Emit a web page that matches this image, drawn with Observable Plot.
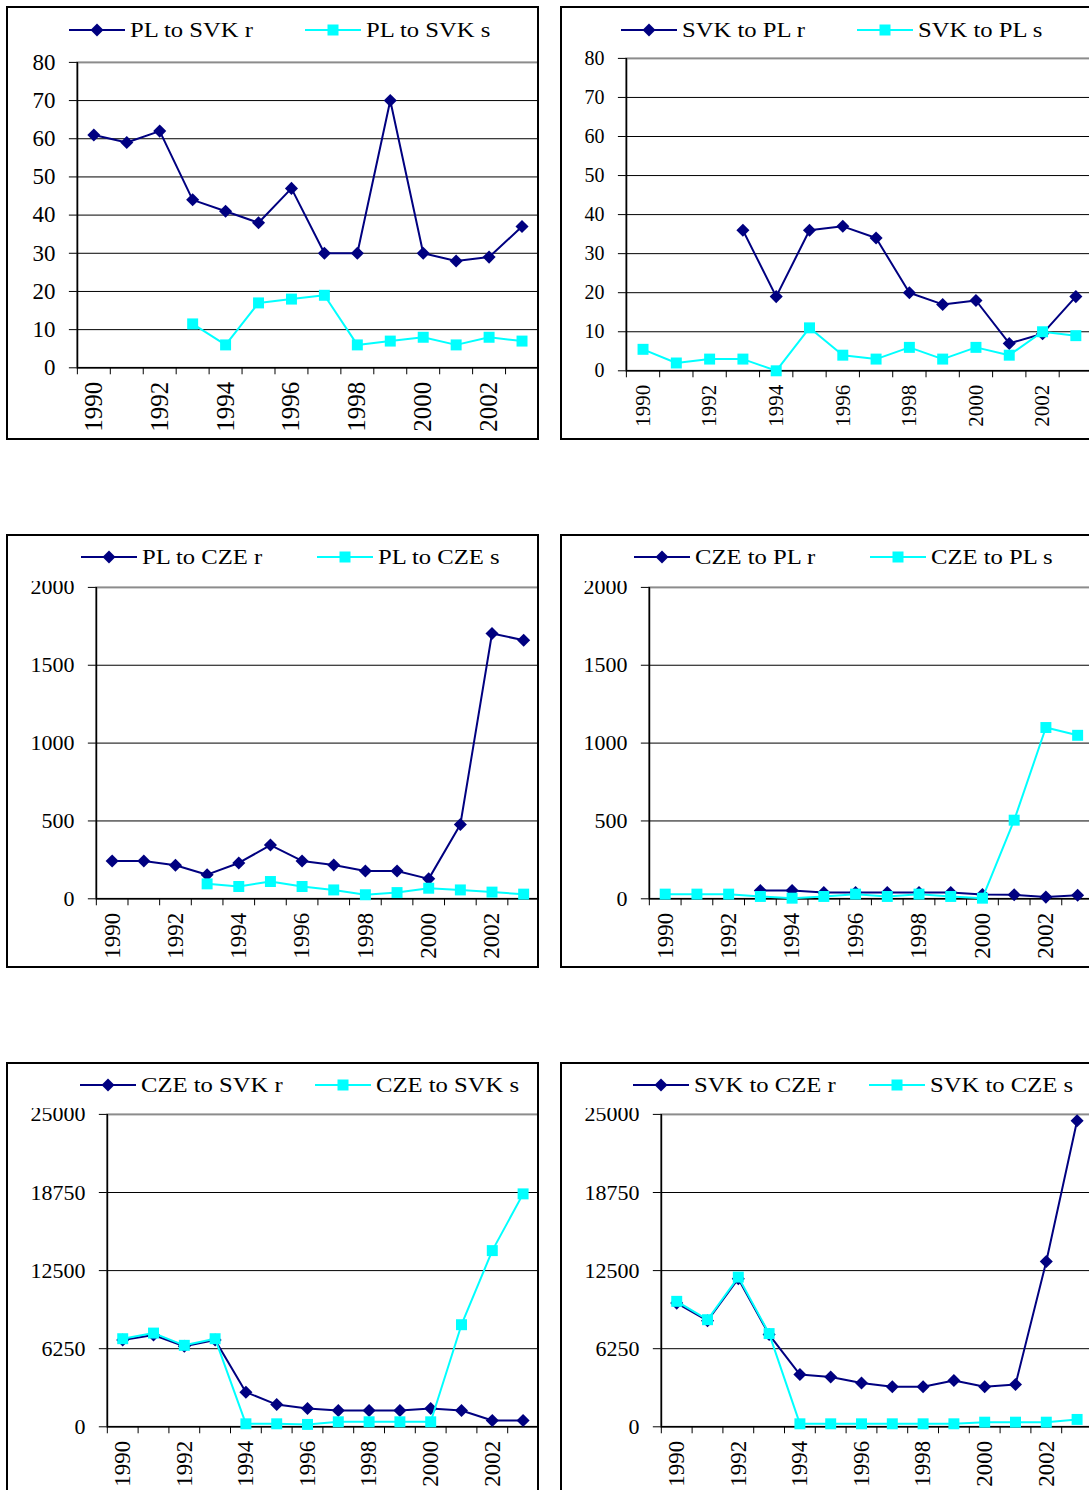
<!DOCTYPE html>
<html><head><meta charset="utf-8">
<script src="https://cdn.jsdelivr.net/npm/d3@7"></script>
<script src="https://cdn.jsdelivr.net/npm/@observablehq/plot@0.6"></script>
<style>
body{margin:0;background:#fff;width:1089px;height:1490px;overflow:hidden;position:relative;font-family:"Liberation Serif","Times New Roman",serif;}
.panel{position:absolute;width:533px;height:434px;}
.border{position:absolute;left:0;top:0;width:533px;height:434px;border:2px solid #000;box-sizing:border-box;pointer-events:none;z-index:3}
.panel svg.chart{position:absolute;left:0;top:0;z-index:1}
svg.chart, svg.chart text{font-family:"Liberation Serif","Times New Roman",serif !important;}
.cover{position:absolute;left:2px;top:2px;width:529px;background:#fff;z-index:2}
.leg{position:absolute;z-index:4;display:flex;align-items:center;font-size:22px;white-space:nowrap;color:#000}
.leg svg{display:block;margin-right:5px;flex:none}
.leg span{display:inline-block;transform:scaleX(1.12);transform-origin:left center}
</style>
</head><body>
<script>
// ---- data (1990 .. 2003) ----
const years = [1990,1991,1992,1993,1994,1995,1996,1997,1998,1999,2000,2001,2002,2003];
const yearLabels = [1990,1992,1994,1996,1998,2000,2002];

const plToSvkR  = [61,59,62,44,41,38,47,30,30,70,30,28,29,37];
const plToSvkS  = [null,null,null,11.5,6,17,18,19,6,7,8,6,8,7];
const svkToPlR  = [null,null,null,36,19,36,37,34,20,17,18,7,9.5,19];
const svkToPlS  = [5.5,2,3,3,0,11,4,3,6,3,6,4,10,9];
const plToCzeR  = [243,243,215,155,230,345,243,217,179,179,128,477,1704,1661];
const plToCzeS  = [null,null,null,96,79,111,79,57,26,40,68,57,43,30];
const czeToPlR  = [null,null,null,53,53,40,40,40,40,40,28,26,11,23];
const czeToPlS  = [30,30,30,15,4,15,30,15,30,15,4,505,1100,1050];
const czeToSvkR = [6950,7350,6450,6950,2770,1780,1460,1300,1300,1300,1460,1300,500,500];
const czeToSvkS = [7050,7500,6520,7050,240,240,190,400,400,400,400,8170,14100,18640];
const svkToCzeR = [9900,8490,11850,7380,4180,3990,3510,3200,3200,3700,3200,3380,13230,24490];
const svkToCzeS = [10040,8570,11980,7460,240,240,240,240,240,240,370,370,370,590];

const ticks80 = [0,10,20,30,40,50,60,70,80];
const ticks2000 = [0,500,1000,1500,2000];
const ticks25000 = [0,6250,12500,18750,25000];

const NAVY = "#000080", CYAN = "#00FFFF";

const panels = [
  {left:6,   top:6,    r:plToSvkR,  s:plToSvkS,  rName:"PL to SVK r",  sName:"PL to SVK s",  ticks:ticks80,    ml:71,  mt:56, bottom:362, right:533, yFont:23, xFont:25, leg1:63, leg2:299, legY:24, cover:0},
  {left:560, top:6,    r:svkToPlR,  s:svkToPlS,  rName:"SVK to PL r",  sName:"SVK to PL s",  ticks:ticks80,    ml:66,  mt:52, bottom:365, right:533, yFont:20, xFont:21, leg1:61, leg2:297, legY:24, cover:0},
  {left:6,   top:534,  r:plToCzeR,  s:plToCzeS,  rName:"PL to CZE r",  sName:"PL to CZE s",  ticks:ticks2000,  ml:90,  mt:53, bottom:365, right:534, yFont:22, xFont:23, leg1:75, leg2:311, legY:23, cover:47},
  {left:560, top:534,  r:czeToPlR,  s:czeToPlS,  rName:"CZE to PL r",  sName:"CZE to PL s",  ticks:ticks2000,  ml:89,  mt:53, bottom:365, right:534, yFont:22, xFont:23, leg1:74, leg2:310, legY:23, cover:47},
  {left:6,   top:1062, r:czeToSvkR, s:czeToSvkS, rName:"CZE to SVK r", sName:"CZE to SVK s", ticks:ticks25000, ml:101, mt:52, bottom:365, right:533, yFont:22, xFont:23, leg1:74, leg2:309, legY:23, cover:46},
  {left:560, top:1062, r:svkToCzeR, s:svkToCzeS, rName:"SVK to CZE r", sName:"SVK to CZE s", ticks:ticks25000, ml:101, mt:52, bottom:365, right:533, yFont:22, xFont:23, leg1:73, leg2:309, legY:23, cover:46}
];

const W = 534, H = 434;
const bounds = d3.range(14 + 1).map(i => 1989.5 + i);
const FONT = '"Liberation Serif","Times New Roman",serif';

function legendEntry(panelDiv, x, y, name, symbol, color) {
  const d = document.createElement("div");
  d.className = "leg";
  d.style.left = x + "px";
  d.style.top = (y - 13) + "px";
  d.style.height = "26px";
  const sym = symbol === "diamond"
    ? `<path d="M28,0.5 L34.5,7 L28,13.5 L21.5,7 Z" fill="${color}"/>`
    : `<rect x="22.5" y="1.5" width="11" height="11" fill="${color}"/>`;
  d.innerHTML = `<svg width="56" height="14" viewBox="0 0 56 14"><line x1="0" x2="56" y1="7" y2="7" stroke="${color}" stroke-width="2"/>${sym}</svg><span>${name}</span>`;
  panelDiv.appendChild(d);
}

for (const p of panels) {
  const div = document.createElement("div");
  div.className = "panel";
  div.style.left = p.left + "px";
  div.style.top = p.top + "px";
  document.body.appendChild(div);

  const max = p.ticks[p.ticks.length - 1];
  const rows = years.map((yr, i) => ({year: yr, r: p.r[i], s: p.s[i]}));

  const chart = Plot.plot({
    width: W, height: H,
    marginLeft: p.ml, marginTop: p.mt, marginBottom: H - p.bottom, marginRight: W - p.right,
    style: {fontFamily: FONT, fontSize: p.yFont + "px", color: "#000", background: "transparent"},
    x: {domain: [1989.5, 2003.5], label: null},
    y: {domain: [0, max], label: null},
    marks: [
      Plot.frame({stroke: "#8c8c8c", strokeWidth: 2}),
      Plot.gridY(p.ticks.slice(1, -1), {stroke: "#000", strokeOpacity: 1, strokeWidth: 1}),
      Plot.axisY(p.ticks, {tickSize: 8, tickPadding: 14, stroke: "#000", fill: "#000", fontSize: p.yFont, label: null, tickFormat: d => String(d)}),
      Plot.axisX(bounds, {tickSize: 7, stroke: "#000", label: null, tickFormat: () => ""}),
      Plot.axisX(yearLabels, {tickSize: 0, tickPadding: 14, tickRotate: -90, fill: "#000", fontSize: p.xFont, label: null, tickFormat: d => String(d)}),
      Plot.ruleX([1989.5], {stroke: "#000", strokeWidth: 1.5}),
      Plot.ruleY([0], {stroke: "#000", strokeWidth: 1.5}),
      Plot.line(rows, {x: "year", y: "r", stroke: NAVY, strokeWidth: 2}),
      Plot.dot(rows.filter(d => d.r != null), {x: "year", y: "r", symbol: "diamond2", r: 5.9, fill: NAVY, stroke: "none"}),
      Plot.line(rows, {x: "year", y: "s", stroke: CYAN, strokeWidth: 2}),
      Plot.dot(rows.filter(d => d.s != null), {x: "year", y: "s", symbol: "square", r: 6.2, fill: CYAN, stroke: "none"})
    ]
  });
  chart.classList.add("chart");
  div.appendChild(chart);

  if (p.cover) {
    const c = document.createElement("div");
    c.className = "cover";
    c.style.height = (p.cover - 2) + "px";
    div.appendChild(c);
  }
  const b = document.createElement("div");
  b.className = "border";
  div.appendChild(b);

  legendEntry(div, p.leg1, p.legY, p.rName, "diamond", NAVY);
  legendEntry(div, p.leg2, p.legY, p.sName, "square", CYAN);
}
</script>
</body></html>
